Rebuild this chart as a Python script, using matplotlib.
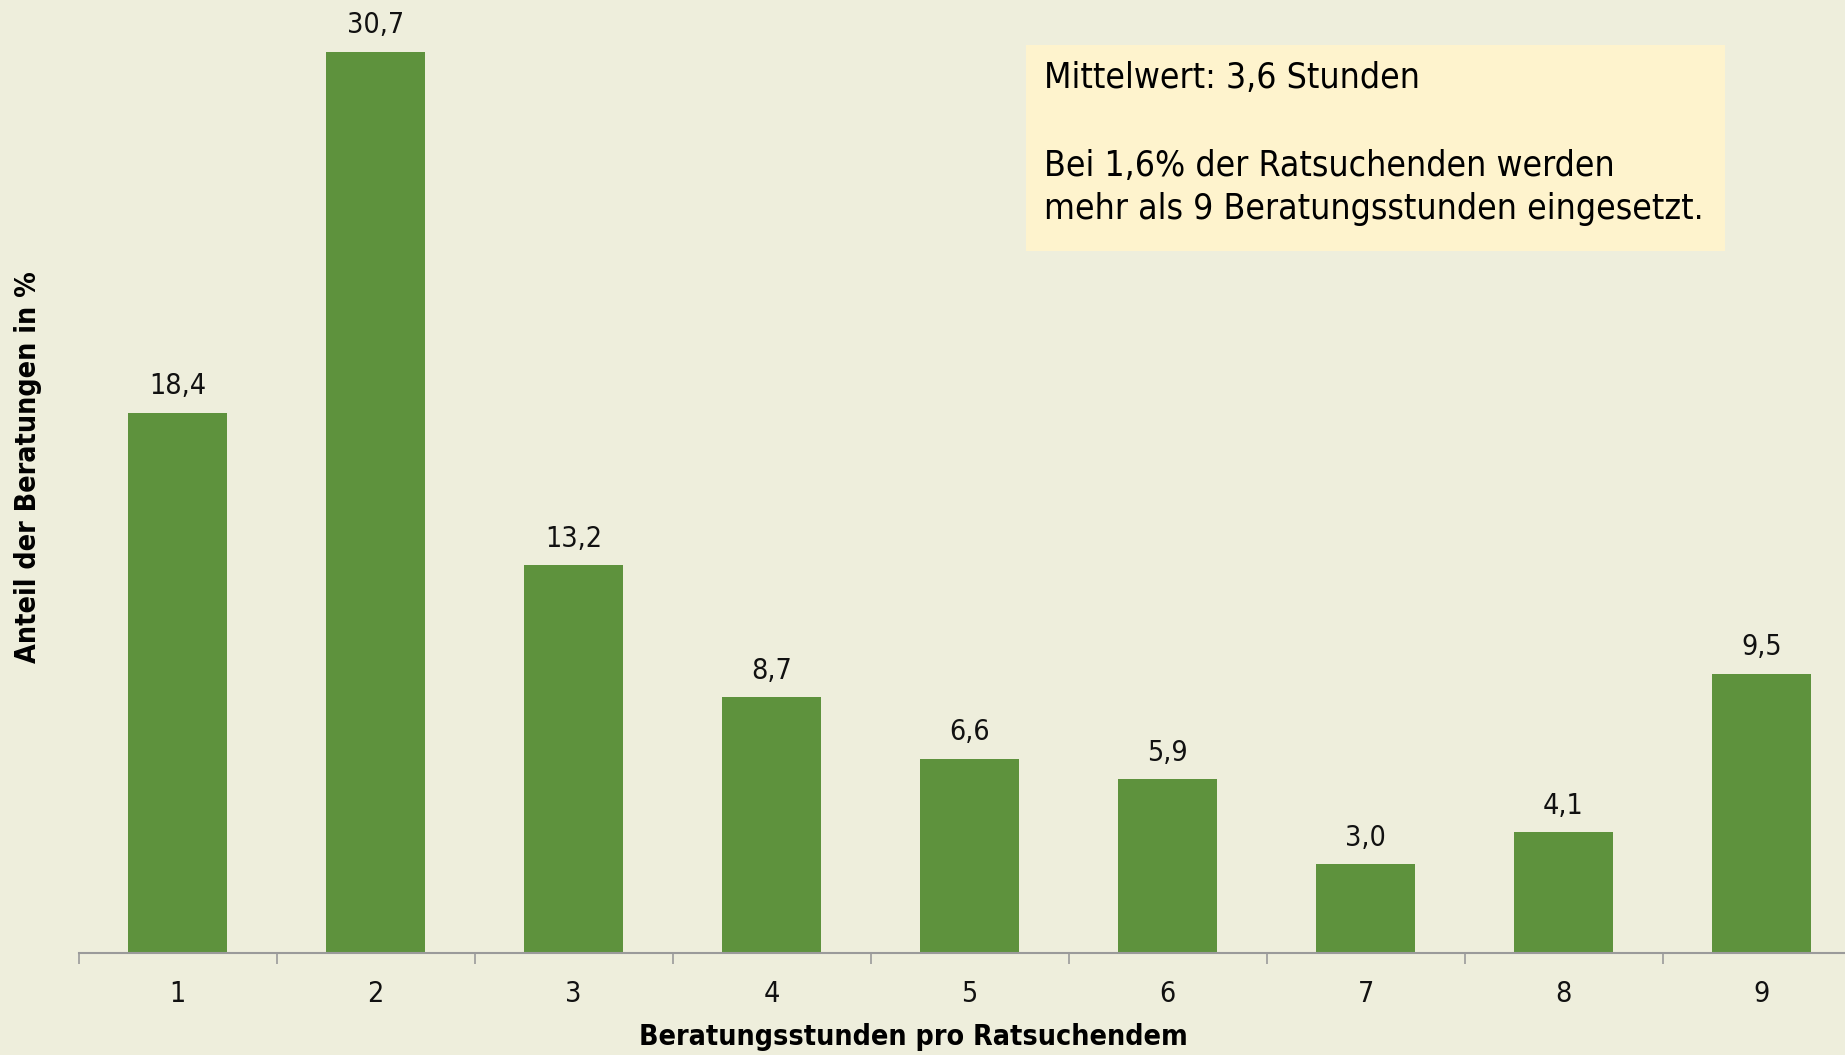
import matplotlib.pyplot as plt
import matplotlib.patches as patches
import numpy as np

# Daten
stunden = [1, 2, 3, 4, 5, 6, 7, 8, 9]
anteile = [18.4, 30.7, 13.2, 8.7, 6.6, 5.9, 3.0, 4.1, 9.5]
wert_labels = ['18,4', '30,7', '13,2', '8,7', '6,6', '5,9', '3,0', '4,1', '9,5']
tick_labels = ['1', '2', '3', '4', '5', '6', '7', '8', '9']

bg = '#EEEEDC'
green = '#5E923D'
box_color = '#FEF3CD'
font = dict(family='DejaVu Sans', fontstretch='condensed')

fig = plt.figure(figsize=(18.45, 10.55), dpi=100)
fig.patch.set_facecolor(bg)

# axes runs a little past the right edge, like the original
ax = fig.add_axes([78.5 / 1845, 1 - 952.5 / 1055, 1782 / 1845, 939 / 1055])
ax.set_facecolor(bg)

ax.bar(stunden, anteile, width=0.5, color=green, zorder=2)
for x, v, lab in zip(stunden, anteile, wert_labels):
    ax.annotate(lab, (x, v), xytext=(0, 9), textcoords='offset points',
                ha='center', va='bottom', fontsize=20.5, color='#111111', **font)

ax.set_xlim(0.5, 9.5)
ax.set_ylim(0, 32)

for s in ['top', 'right', 'left']:
    ax.spines[s].set_visible(False)
ax.spines['bottom'].set_color('#9A9A9A')
ax.spines['bottom'].set_linewidth(1.5)
ax.set_yticks([])

ax.set_xticks(stunden)
ax.set_xticklabels(tick_labels, fontsize=20.5, color='#111111', **font)
ax.tick_params(axis='x', which='major', length=0, pad=20)
ax.set_xticks(np.arange(0.5, 10, 1), minor=True)
ax.tick_params(axis='x', which='minor', length=8, width=1.2, color='#9A9A9A')

fig.text(913 / 1845, 1 - 1037 / 1055, 'Beratungsstunden pro Ratsuchendem',
         ha='center', va='center', fontsize=20.5, fontweight='bold', **font)
fig.text(28 / 1845, 1 - 467 / 1055, 'Anteil der Beratungen in %',
         ha='center', va='center', rotation=90, fontsize=20.5, fontweight='bold', **font)

# Textbox
box = patches.Rectangle((1026 / 1845, 1 - 250.5 / 1055), 699 / 1845, 206 / 1055,
                        transform=fig.transFigure, facecolor=box_color, edgecolor='none')
fig.add_artist(box)
fig.text(1044 / 1845, 1 - 78 / 1055, 'Mittelwert: 3,6 Stunden',
         ha='left', va='center', fontsize=25.5, **font)
fig.text(1044 / 1845, 1 - 166 / 1055, 'Bei 1,6% der Ratsuchenden werden',
         ha='left', va='center', fontsize=25.5, **font)
fig.text(1044 / 1845, 1 - 209 / 1055, 'mehr als 9 Beratungsstunden eingesetzt.',
         ha='left', va='center', fontsize=25.5, **font)

plt.savefig('out.png', dpi=100, facecolor=bg)
